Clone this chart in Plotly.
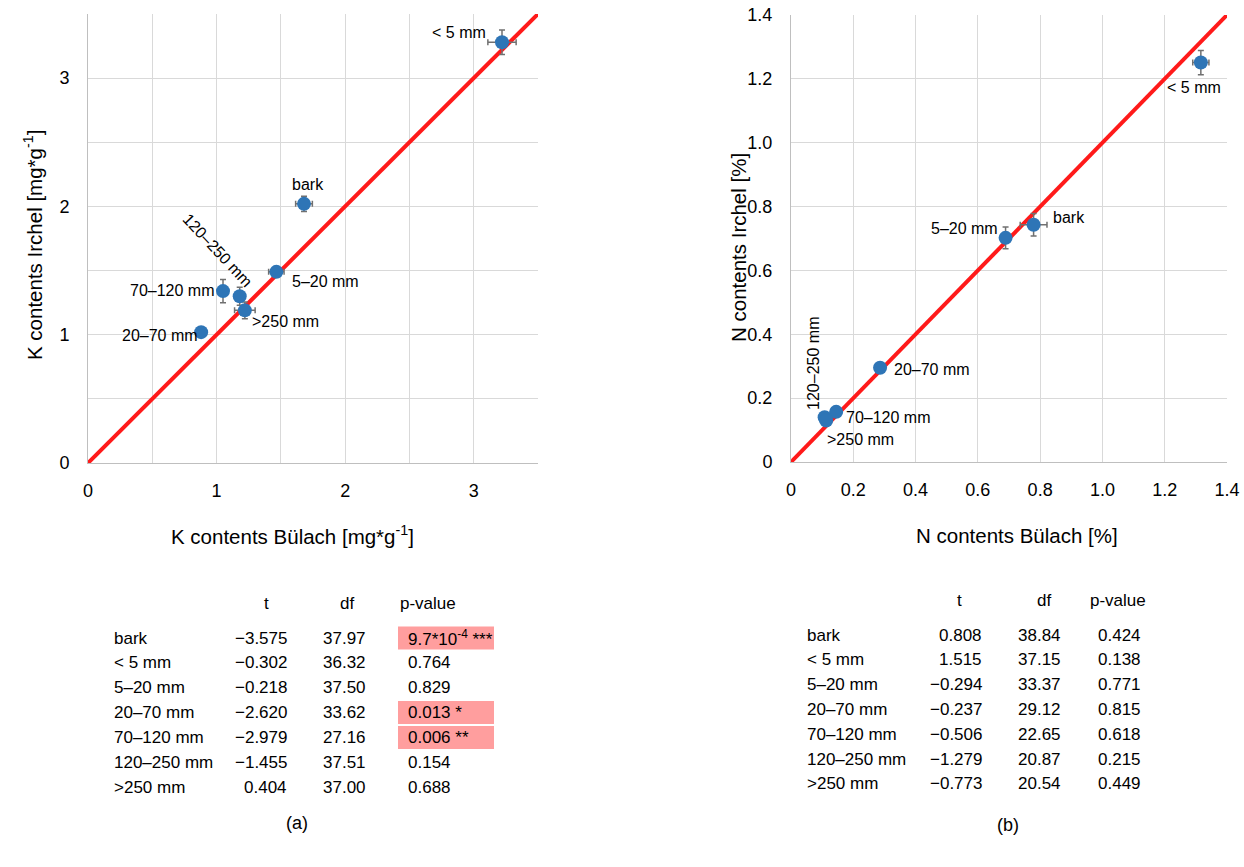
import plotly.graph_objects as go

# ---------------- data ----------------
categories = ["bark", "< 5 mm", "5–20 mm", "20–70 mm", "70–120 mm", "120–250 mm", ">250 mm"]

# panel (a): K contents
k_bulach = [1.68, 3.22, 1.465, 0.88, 1.05, 1.18, 1.22]
k_irchel = [2.02, 3.28, 1.49, 1.02, 1.34, 1.30, 1.19]
k_err_x = [0.065, 0.11, 0.06, 0.02, 0.03, 0.03, 0.08]
k_err_y = [0.06, 0.095, 0.04, 0.02, 0.09, 0.07, 0.065]

# panel (b): N contents
n_bulach = [0.779, 1.316, 0.689, 0.286, 0.145, 0.108, 0.113]
n_irchel = [0.743, 1.251, 0.702, 0.295, 0.157, 0.140, 0.130]
n_err_x = [0.043, 0.026, 0.01, 0.01, 0.01, 0.01, 0.01]
n_err_y = [0.035, 0.038, 0.034, 0.015, 0.01, 0.01, 0.01]

# t-test tables
k_t = ["−3.575", "−0.302", "−0.218", "−2.620", "−2.979", "−1.455", "0.404"]
k_df = ["37.97", "36.32", "37.50", "33.62", "27.16", "37.51", "37.00"]
k_p = ["9.7*10<sup>-4</sup> ***", "0.764", "0.829", "0.013 *", "0.006 **", "0.154", "0.688"]

n_t = ["0.808", "1.515", "−0.294", "−0.237", "−0.506", "−1.279", "−0.773"]
n_df = ["38.84", "37.15", "33.37", "29.12", "22.65", "20.87", "20.54"]
n_p = ["0.424", "0.138", "0.771", "0.815", "0.618", "0.215", "0.449"]

k_ticks = [0, 1, 2, 3]
k_ticktext = ["0", "1", "2", "3"]
k_grid_step = 0.5
n_ticks = [0, 0.2, 0.4, 0.6, 0.8, 1.0, 1.2, 1.4]
n_ticktext = ["0", "0.2", "0.4", "0.6", "0.8", "1.0", "1.2", "1.4"]

# ---------------- style ----------------
W, H = 1244, 867
FONT = "Liberation Sans, Arial, sans-serif"
BLUE = "#2E75B6"
RED = "#FF1A1A"
GRID = "#D9D9D9"
AXL = "#BFBFBF"
PINK = "#FF9E9E"

def px(x):
    return x / W

def py(y):
    return 1 - y / H

def esc(s):
    return s.replace("<", "&lt;").replace(">", "&gt;")

# label offsets (pixels) relative to the marker
k_lab_off = [(4, 19), (-43, 10), (49, -10), (-41, -3), (-51, 1), (-22, 46), (41, -11)]
k_lab_ang = [0, 0, 0, 0, 0, 47, 0]
n_lab_off = [(35, 7), (-7, -25), (-41, 9), (52, -2), (52, -6), (-11, 54), (34, -19)]
n_lab_ang = [0, 0, 0, 0, 0, -90, 0]

fig = go.Figure()

# identity lines
fig.add_trace(go.Scatter(x=[0, 3.5], y=[0, 3.5], mode="lines",
                         line=dict(color=RED, width=4), xaxis="x", yaxis="y",
                         hoverinfo="skip", showlegend=False))
fig.add_trace(go.Scatter(x=[0, 1.4], y=[0, 1.4], mode="lines",
                         line=dict(color=RED, width=4), xaxis="x2", yaxis="y2",
                         hoverinfo="skip", showlegend=False))

eb = dict(type="data", symmetric=True, color="#707070", thickness=1.5, width=3)
fig.add_trace(go.Scatter(x=k_bulach, y=k_irchel, mode="markers",
                         marker=dict(color=BLUE, size=14),
                         error_x=dict(array=k_err_x, **eb), error_y=dict(array=k_err_y, **eb),
                         xaxis="x", yaxis="y", text=categories, showlegend=False))
fig.add_trace(go.Scatter(x=n_bulach, y=n_irchel, mode="markers",
                         marker=dict(color=BLUE, size=14),
                         error_x=dict(array=n_err_x, **eb), error_y=dict(array=n_err_y, **eb),
                         xaxis="x2", yaxis="y2", text=categories, showlegend=False))

ann = []
for cat, x, y, off, ang in zip(categories, k_bulach, k_irchel, k_lab_off, k_lab_ang):
    ann.append(dict(x=x, y=y, xref="x", yref="y", text=esc(cat), showarrow=False,
                    xshift=off[0], yshift=off[1], textangle=ang,
                    xanchor="center", yanchor="middle",
                    font=dict(size=16, color="black", family=FONT)))
for cat, x, y, off, ang in zip(categories, n_bulach, n_irchel, n_lab_off, n_lab_ang):
    ann.append(dict(x=x, y=y, xref="x2", yref="y2", text=esc(cat), showarrow=False,
                    xshift=off[0], yshift=off[1], textangle=ang,
                    xanchor="center", yanchor="middle",
                    font=dict(size=16, color="black", family=FONT)))

def text_at(x, y, text, font, anchor="center", angle=0):
    ann.append(dict(x=px(x), y=py(y), xref="paper", yref="paper", showarrow=False,
                    text=text, xanchor=anchor, yanchor="middle", textangle=angle,
                    font=font))

# axis titles
tf = dict(size=20.5, color="black", family=FONT)
text_at(292, 535, "K contents Bülach [mg*g<sup>-1</sup>]", tf)
text_at(33, 245, "K contents Irchel [mg*g<sup>-1</sup>]", tf, angle=-90)
text_at(1017, 535, "N contents Bülach [%]", tf)
text_at(738, 248, "N contents Irchel [%]", tf, angle=-90)

# panel labels
pf = dict(size=18, color="black", family=FONT)
text_at(297, 823, "(a)", pf)
text_at(1008, 825, "(b)", pf)

# tables
tbf = dict(size=17, color="black", family=FONT)
shapes = []

# left table
text_at(266, 603, "t", tbf, "center")
text_at(347, 603, "df", tbf, "center")
text_at(398, 603, "p-value", tbf, "left")
for i, cat in enumerate(categories):
    y = 638 + 24.85 * i
    if "*" in k_p[i]:
        shapes.append(dict(type="rect", xref="paper", yref="paper",
                           x0=px(398), x1=px(494), y0=py(y + 11.5), y1=py(y - 11.5),
                           fillcolor=PINK, line=dict(width=0), layer="below"))
    text_at(112, y, esc(cat), tbf, "left")
    text_at(289, y, k_t[i], tbf, "right")
    text_at(368, y, k_df[i], tbf, "right")
    text_at(406, y, k_p[i], tbf, "left")

# right table
text_at(960, 600, "t", tbf, "center")
text_at(1044, 600, "df", tbf, "center")
text_at(1118, 600, "p-value", tbf, "center")
for i, cat in enumerate(categories):
    y = 635 + 24.8 * i
    text_at(805, y, esc(cat), tbf, "left")
    text_at(984, y, n_t[i], tbf, "right")
    text_at(1063, y, n_df[i], tbf, "right")
    text_at(1143, y, n_p[i], tbf, "right")

axcommon = dict(showgrid=True, gridcolor=GRID, gridwidth=1, zeroline=False,
                showline=True, linecolor=AXL, linewidth=1, ticks="",
                tickfont=dict(size=18, color="black", family=FONT),
                fixedrange=True, automargin=False)

fig.update_layout(
    width=W, height=H, autosize=False,
    margin=dict(l=0, r=0, t=0, b=0, pad=0, autoexpand=False),
    paper_bgcolor="white", plot_bgcolor="white",
    font=dict(family=FONT, color="black"),
    showlegend=False,
    xaxis=dict(domain=[px(88), px(538)], range=[0, 3.5], tickvals=k_ticks,
               ticktext=k_ticktext, anchor="y", ticklabelstandoff=11,
               minor=dict(dtick=k_grid_step, showgrid=True, gridcolor=GRID, gridwidth=1),
               **axcommon),
    yaxis=dict(domain=[py(463), py(14)], range=[0, 3.5], tickvals=k_ticks,
               ticktext=k_ticktext, anchor="x", ticklabelstandoff=14,
               minor=dict(dtick=k_grid_step, showgrid=True, gridcolor=GRID, gridwidth=1),
               **axcommon),
    xaxis2=dict(domain=[px(791), px(1227)], range=[0, 1.4], tickvals=n_ticks,
                ticktext=n_ticktext, anchor="y2", ticklabelstandoff=11, **axcommon),
    yaxis2=dict(domain=[py(462), py(15)], range=[0, 1.4], tickvals=n_ticks,
                ticktext=n_ticktext, anchor="x2", ticklabelstandoff=14, **axcommon),
    annotations=ann,
    shapes=shapes,
)

fig.write_html("out.html")
